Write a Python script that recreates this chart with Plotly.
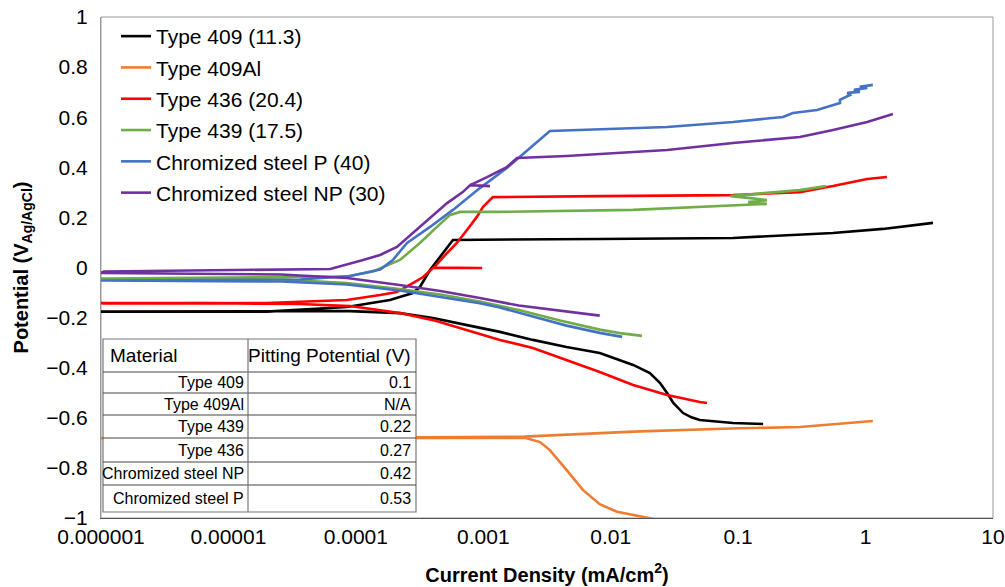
import plotly.graph_objects as go

# ---------------- data (current density in mA/cm2, potential in V vs Ag/AgCl) ----------------
# Each series: cathodic branch (high current -> Ecorr) followed by anodic branch (Ecorr -> high current)
t409_current = [0.157, 0.091, 0.050, 0.043, 0.037, 0.031, 0.0277, 0.0244, 0.0203, 0.0150, 0.0082, 0.0045,
                0.00245, 0.00135, 0.000745, 0.000403, 0.000222, 0.000155, 0.00009, 0.00003, 0.000001,
                0.00000105, 0.00002, 0.000085, 0.000185, 0.00028, 0.000318, 0.000382, 0.000457,
                0.000578, 0.0082, 0.091, 0.555, 1.37, 3.38]
t409_potential = [-0.625, -0.621, -0.609, -0.598, -0.581, -0.541, -0.501, -0.461, -0.421, -0.389, -0.341, -0.317,
                  -0.289, -0.257, -0.230, -0.202, -0.182, -0.178, -0.174, -0.174, -0.176,
                  -0.178, -0.176, -0.158, -0.130, -0.102, -0.078, -0.010, 0.042,
                  0.110, 0.114, 0.118, 0.138, 0.154, 0.178]

t409al_current = [0.025, 0.020, 0.0150, 0.0112, 0.0082, 0.00605, 0.0045, 0.00333, 0.00279, 0.0024, 0.00212,
                  0.0003, 0.000001,
                  0.0000011, 0.0003, 0.0021, 0.0082, 0.015, 0.1, 0.305, 0.5, 1.14]
t409al_potential = [-1.01, -1.0, -0.99, -0.975, -0.945, -0.888, -0.808, -0.729, -0.697, -0.686, -0.680,
                    -0.680, -0.681,
                    -0.680, -0.678, -0.675, -0.662, -0.655, -0.642, -0.637, -0.628, -0.613]

t436_current = [0.057, 0.050, 0.0277, 0.0150, 0.0082, 0.0045, 0.00245, 0.00135, 0.000745, 0.000403,
                0.000222, 0.000155, 0.00009, 0.0000365, 0.000006, 0.000001,
                0.00000105, 0.00002, 0.000085, 0.000155, 0.00021, 0.00028, 0.000337, 0.000403, 0.00098,
                0.00041, 0.00052, 0.00062, 0.000745, 0.00089, 0.000996, 0.00109, 0.00119, 0.0082,
                0.091, 0.305, 0.555, 1.03, 1.47]
t436_potential = [-0.541, -0.537, -0.509, -0.469, -0.417, -0.369, -0.321, -0.289, -0.249, -0.210,
                  -0.182, -0.170, -0.154, -0.146, -0.142, -0.142,
                  -0.144, -0.142, -0.130, -0.110, -0.098, -0.062, -0.038, -0.002, -0.002,
                  0.0, 0.058, 0.098, 0.150, 0.202, 0.242, 0.261, 0.281, 0.285,
                  0.289, 0.301, 0.325, 0.353, 0.361]

t439_current = [0.0176, 0.0118, 0.0082, 0.0040, 0.0019, 0.00094, 0.00046, 0.00022, 0.000085, 0.000026,
                0.000001,
                0.00000105, 0.000085, 0.000136, 0.000222, 0.000318, 0.000433, 0.00055, 0.00066, 0.00135,
                0.015, 0.091, 0.168, 0.120, 0.168, 0.125, 0.087, 0.16, 0.305, 0.49]
t439_potential = [-0.273, -0.262, -0.248, -0.212, -0.170, -0.136, -0.108, -0.086, -0.062, -0.048,
                  -0.044,
                  -0.044, -0.036, -0.016, 0.030, 0.098, 0.162, 0.210, 0.222, 0.222,
                  0.230, 0.246, 0.254, 0.261, 0.269, 0.277, 0.285, 0.297, 0.309, 0.325]

cp_current = [0.0123, 0.0082, 0.0045, 0.00245, 0.00135, 0.00094, 0.00046, 0.00022, 0.000085, 0.000026,
              0.000001,
              0.00000105, 0.0000365, 0.00009, 0.000155, 0.000195, 0.000252, 0.000382, 0.000578, 0.00094,
              0.00153, 0.00333, 0.0277, 0.0912, 0.225, 0.269, 0.416, 0.555, 0.63, 0.63, 0.755, 0.72,
              0.90, 0.81, 1.03, 0.90, 1.14]
cp_potential = [-0.277, -0.261, -0.232, -0.195, -0.160, -0.143, -0.118, -0.092, -0.068, -0.056,
                -0.052,
                -0.052, -0.048, -0.034, -0.008, 0.030, 0.098, 0.162, 0.230, 0.317,
                0.397, 0.545, 0.561, 0.581, 0.601, 0.617, 0.629, 0.649, 0.657, 0.669, 0.689, 0.697,
                0.701, 0.709, 0.717, 0.721, 0.729]

cnp_current = [0.0082, 0.0040, 0.0019, 0.00094, 0.00046, 0.00022, 0.000085, 0.000026, 0.000001,
               0.00000105, 0.000063, 0.000114, 0.000155, 0.00021, 0.00028, 0.000382, 0.00052, 0.00069,
               0.00079, 0.00113, 0.00079, 0.00107, 0.00153, 0.00184, 0.0045, 0.0277, 0.0912, 0.305,
               0.555, 1.03, 1.64]
cnp_potential = [-0.192, -0.172, -0.152, -0.122, -0.094, -0.070, -0.042, -0.028, -0.022,
                 -0.016, -0.006, 0.030, 0.050, 0.082, 0.138, 0.198, 0.257, 0.301,
                 0.329, 0.325, 0.329, 0.361, 0.401, 0.437, 0.445, 0.469, 0.497, 0.521,
                 0.549, 0.581, 0.613]

series_names = ["Type 409 (11.3)", "Type 409Al", "Type 436 (20.4)", "Type 439 (17.5)",
                "Chromized steel P (40)", "Chromized steel NP (30)"]
series_colors = ["#000000", "#ED7D31", "#FF0000", "#70AD47", "#4472C4", "#7030A0"]

x_tick_values = [1e-6, 1e-5, 1e-4, 1e-3, 1e-2, 1e-1, 1, 10]
x_tick_labels = ["0.000001", "0.00001", "0.0001", "0.001", "0.01", "0.1", "1", "10"]

table_materials = ["Type 409", "Type 409Al", "Type 439", "Type 436", "Chromized steel NP", "Chromized steel P"]
table_pitting = ["0.1", "N/A", "0.22", "0.27", "0.42", "0.53"]

# ---------------- figure ----------------
FONT = "Liberation Sans, Arial, Helvetica, sans-serif"
W, H = 1005, 587
ML, MR, MT, MB = 101, 12, 17, 69
PW, PH = W - ML - MR, H - MT - MB


def px_x(px):
    return (px - ML) / PW


def px_y(py):
    return (H - MB - py) / PH


fig = go.Figure()
data = [(t409_current, t409_potential), (t409al_current, t409al_potential),
        (t436_current, t436_potential), (t439_current, t439_potential),
        (cp_current, cp_potential), (cnp_current, cnp_potential)]
for i, (name, color, (xs, ys)) in enumerate(zip(series_names, series_colors, data)):
    fig.add_trace(go.Scatter(x=xs, y=ys, mode="lines", name=name, legendgroup=f"g{i}",
                             line=dict(color=color, width=2.6)))

shapes = []
# plot frame
shapes.append(dict(type="rect", xref="paper", yref="paper", x0=0, x1=1, y0=0, y1=1,
                   line=dict(color="#999999", width=1), layer="below"))

# table
t_left, t_mid, t_right = 103, 248, 416
row_lines = [339, 372, 393, 415, 438, 462, 485, 512]
shapes.append(dict(type="rect", xref="paper", yref="paper",
                   x0=px_x(t_left), x1=px_x(t_right), y0=px_y(row_lines[-1]), y1=px_y(row_lines[0]),
                   fillcolor="white", line=dict(color="#777777", width=1.2), layer="above"))
for ry in row_lines[1:-1]:
    shapes.append(dict(type="line", xref="paper", yref="paper",
                       x0=px_x(t_left), x1=px_x(t_right), y0=px_y(ry), y1=px_y(ry),
                       line=dict(color="#444444", width=1.2), layer="above"))
shapes.append(dict(type="line", xref="paper", yref="paper",
                   x0=px_x(t_mid), x1=px_x(t_mid), y0=px_y(row_lines[-1]), y1=px_y(row_lines[0]),
                   line=dict(color="#777777", width=1.2), layer="above"))

annotations = []
hy = (row_lines[0] + row_lines[1]) / 2
annotations.append(dict(xref="paper", yref="paper", x=px_x(t_left + 5), y=px_y(hy), text="Material",
                        showarrow=False, xanchor="left", yanchor="middle",
                        font=dict(family=FONT, size=19, color="black")))
annotations.append(dict(xref="paper", yref="paper", x=px_x(t_right - 3), y=px_y(hy),
                        text="Pitting Potential (V)", showarrow=False, xanchor="right", yanchor="middle",
                        font=dict(family=FONT, size=19, color="black")))
for i, (m, p) in enumerate(zip(table_materials, table_pitting)):
    cy = (row_lines[i + 1] + row_lines[i + 2]) / 2
    annotations.append(dict(xref="paper", yref="paper", x=px_x(t_mid - 2), y=px_y(cy), text=m,
                            showarrow=False, xanchor="right", yanchor="middle",
                            font=dict(family=FONT, size=16, color="black")))
    annotations.append(dict(xref="paper", yref="paper", x=px_x(t_right - 3), y=px_y(cy), text=p,
                            showarrow=False, xanchor="right", yanchor="middle",
                            font=dict(family=FONT, size=16, color="black")))

fig.update_layout(
    width=W, height=H,
    margin=dict(l=ML, r=MR, t=MT, b=MB, pad=0, autoexpand=False),
    paper_bgcolor="white", plot_bgcolor="white",
    font=dict(family=FONT, size=21, color="black"),
    showlegend=True,
    legend=dict(x=px_x(116), y=px_y(16), xanchor="left", yanchor="top",
                bgcolor="rgba(0,0,0,0)", borderwidth=0, tracegroupgap=1,
                font=dict(family=FONT, size=21, color="black")),
    shapes=shapes,
    annotations=annotations,
)
fig.update_xaxes(type="log", range=[-6, 1], tickvals=x_tick_values, ticktext=x_tick_labels,
                 automargin=False,
                 showgrid=False, zeroline=False, showline=True, linecolor="#555555", linewidth=1.2,
                 ticks="", tickfont=dict(family=FONT, size=21, color="black"),
                 title=dict(text="<b>Current Density (mA/cm<sup>2</sup>)</b>", standoff=20,
                            font=dict(family=FONT, size=20, color="black")))
fig.update_yaxes(range=[-1, 1], dtick=0.2, showgrid=False, zeroline=False, showline=True,
                 automargin=False, ticklabelstandoff=8,
                 linecolor="#999999", linewidth=1, ticks="",
                 tickfont=dict(family=FONT, size=21, color="black"),
                 title=dict(text="<b>Potential (V<sub>Ag/AgCl</sub>)</b>", standoff=12,
                            font=dict(family=FONT, size=20, color="black")))

fig.write_html("out.html", config={"displayModeBar": False},
               post_script="document.body.style.margin='0';document.body.style.overflow='hidden';")
